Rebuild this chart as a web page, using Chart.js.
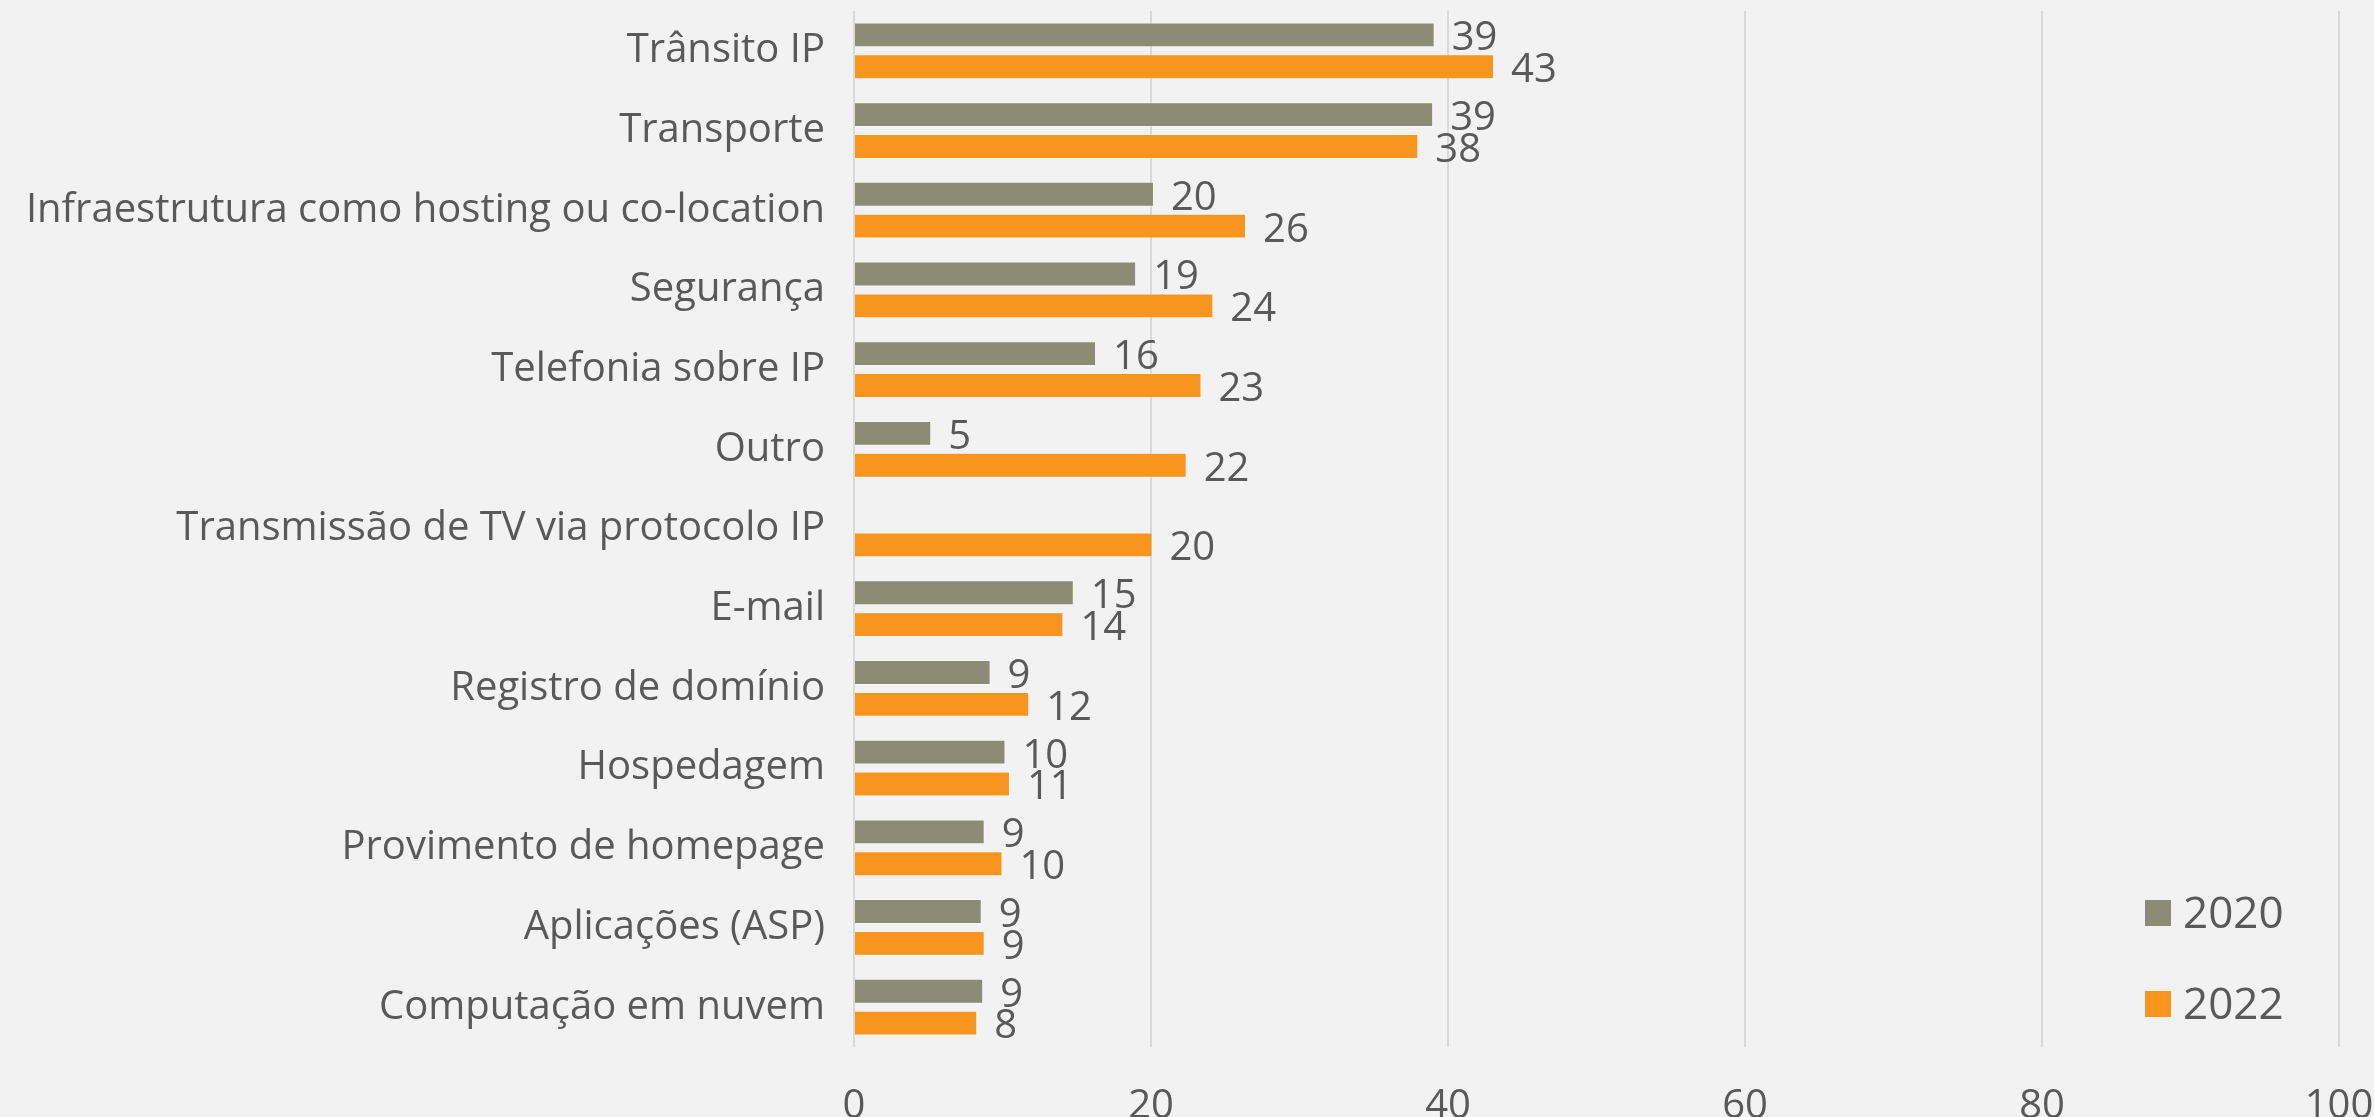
<!DOCTYPE html>
<html>
<head>
<meta charset="utf-8">
<script src="https://cdn.jsdelivr.net/npm/chart.js@4"></script>
<style>
  html, body { margin: 0; padding: 0; background: #f2f2f2; }
  canvas { display: block; }
</style>
</head>
<body>
<canvas id="myChart" width="2374" height="1117"></canvas>
<script>
var categories = [
    'Trânsito IP',
    'Transporte',
    'Infraestrutura como hosting ou co-location',
    'Segurança',
    'Telefonia sobre IP',
    'Outro',
    'Transmissão de TV via protocolo IP',
    'E-mail',
    'Registro de domínio',
    'Hospedagem',
    'Provimento de homepage',
    'Aplicações (ASP)',
    'Computação em nuvem'
];
var values2020 = [39.1, 39.0, 20.2, 19.0, 16.3, 5.2, null, 14.8, 9.2, 10.2, 8.8, 8.6, 8.7];
var values2022 = [43.1, 38.0, 26.4, 24.2, 23.4, 22.4, 20.1, 14.1, 11.8, 10.5, 10.0, 8.8, 8.3];
var seriesNames = ['2020', '2022'];
var xTicks = [0, 20, 40, 60, 80, 100];

var textColor = '#595959';
var fontFamily = "'Open Sans', sans-serif";

// value labels to the right of each bar
var barLabels = {
    id: 'barLabels',
    afterDatasetsDraw: function (chart) {
        var ctx = chart.ctx;
        ctx.save();
        ctx.font = '40px ' + fontFamily;
        ctx.fillStyle = textColor;
        ctx.textAlign = 'left';
        ctx.textBaseline = 'middle';
        chart.data.datasets.forEach(function (ds, i) {
            chart.getDatasetMeta(i).data.forEach(function (bar, j) {
                if (ds.data[j] == null) return;
                ctx.fillText(String(Math.round(ds.data[j])), bar.x + 17, bar.y + 4);
            });
        });
        ctx.restore();
    }
};

// legend sitting inside the plot, bottom right
var sideLegend = {
    id: 'sideLegend',
    afterDraw: function (chart) {
        var ctx = chart.ctx;
        ctx.save();
        ctx.font = '44px ' + fontFamily;
        ctx.textAlign = 'left';
        ctx.textBaseline = 'middle';
        chart.data.datasets.forEach(function (ds, i) {
            var y = 913 + i * 91;
            ctx.fillStyle = ds.backgroundColor;
            ctx.fillRect(2145, y - 13, 26, 26);
            ctx.fillStyle = textColor;
            ctx.fillText(ds.label, 2183, y + 2);
        });
        ctx.restore();
    }
};

var ctx = document.getElementById('myChart').getContext('2d');
var myChart = new Chart(ctx, {
    type: 'bar',
    data: {
        labels: categories,
        datasets: [{
            label: seriesNames[0],
            data: values2020,
            backgroundColor: '#8a8c75',
            borderColor: 'rgba(255,255,255,0.35)',
            borderWidth: 1,
            categoryPercentage: 0.8,
            barPercentage: 0.78
        }, {
            label: seriesNames[1],
            data: values2022,
            backgroundColor: '#f7951f',
            borderColor: 'rgba(255,255,255,0.35)',
            borderWidth: 1,
            categoryPercentage: 0.8,
            barPercentage: 0.78
        }]
    },
    options: {
        indexAxis: 'y',
        responsive: false,
        animation: false,
        layout: {
            padding: { top: 11, right: 35, left: 0, bottom: 0 }
        },
        plugins: {
            legend: { display: false },
            tooltip: { enabled: false }
        },
        scales: {
            x: {
                min: 0,
                max: 100,
                afterBuildTicks: function (scale) {
                    scale.ticks = xTicks.map(function (v) { return { value: v }; });
                },
                afterFit: function (scale) {
                    scale.height = 70;
                    scale.paddingLeft = 0;
                    scale.paddingRight = 0;
                },
                grid: { color: '#d9d9d9', lineWidth: 2, drawTicks: false },
                border: { display: false },
                ticks: {
                    color: textColor,
                    padding: 36,
                    font: { family: fontFamily, size: 40 }
                }
            },
            y: {
                afterFit: function (scale) {
                    scale.width = 854;
                    scale.paddingTop = 0;
                    scale.paddingBottom = 0;
                },
                grid: { display: false },
                border: { display: false },
                ticks: {
                    color: textColor,
                    padding: 21,
                    autoSkip: false,
                    font: { family: fontFamily, size: 40 }
                }
            }
        }
    },
    plugins: [barLabels, sideLegend]
});
</script>
</body>
</html>
